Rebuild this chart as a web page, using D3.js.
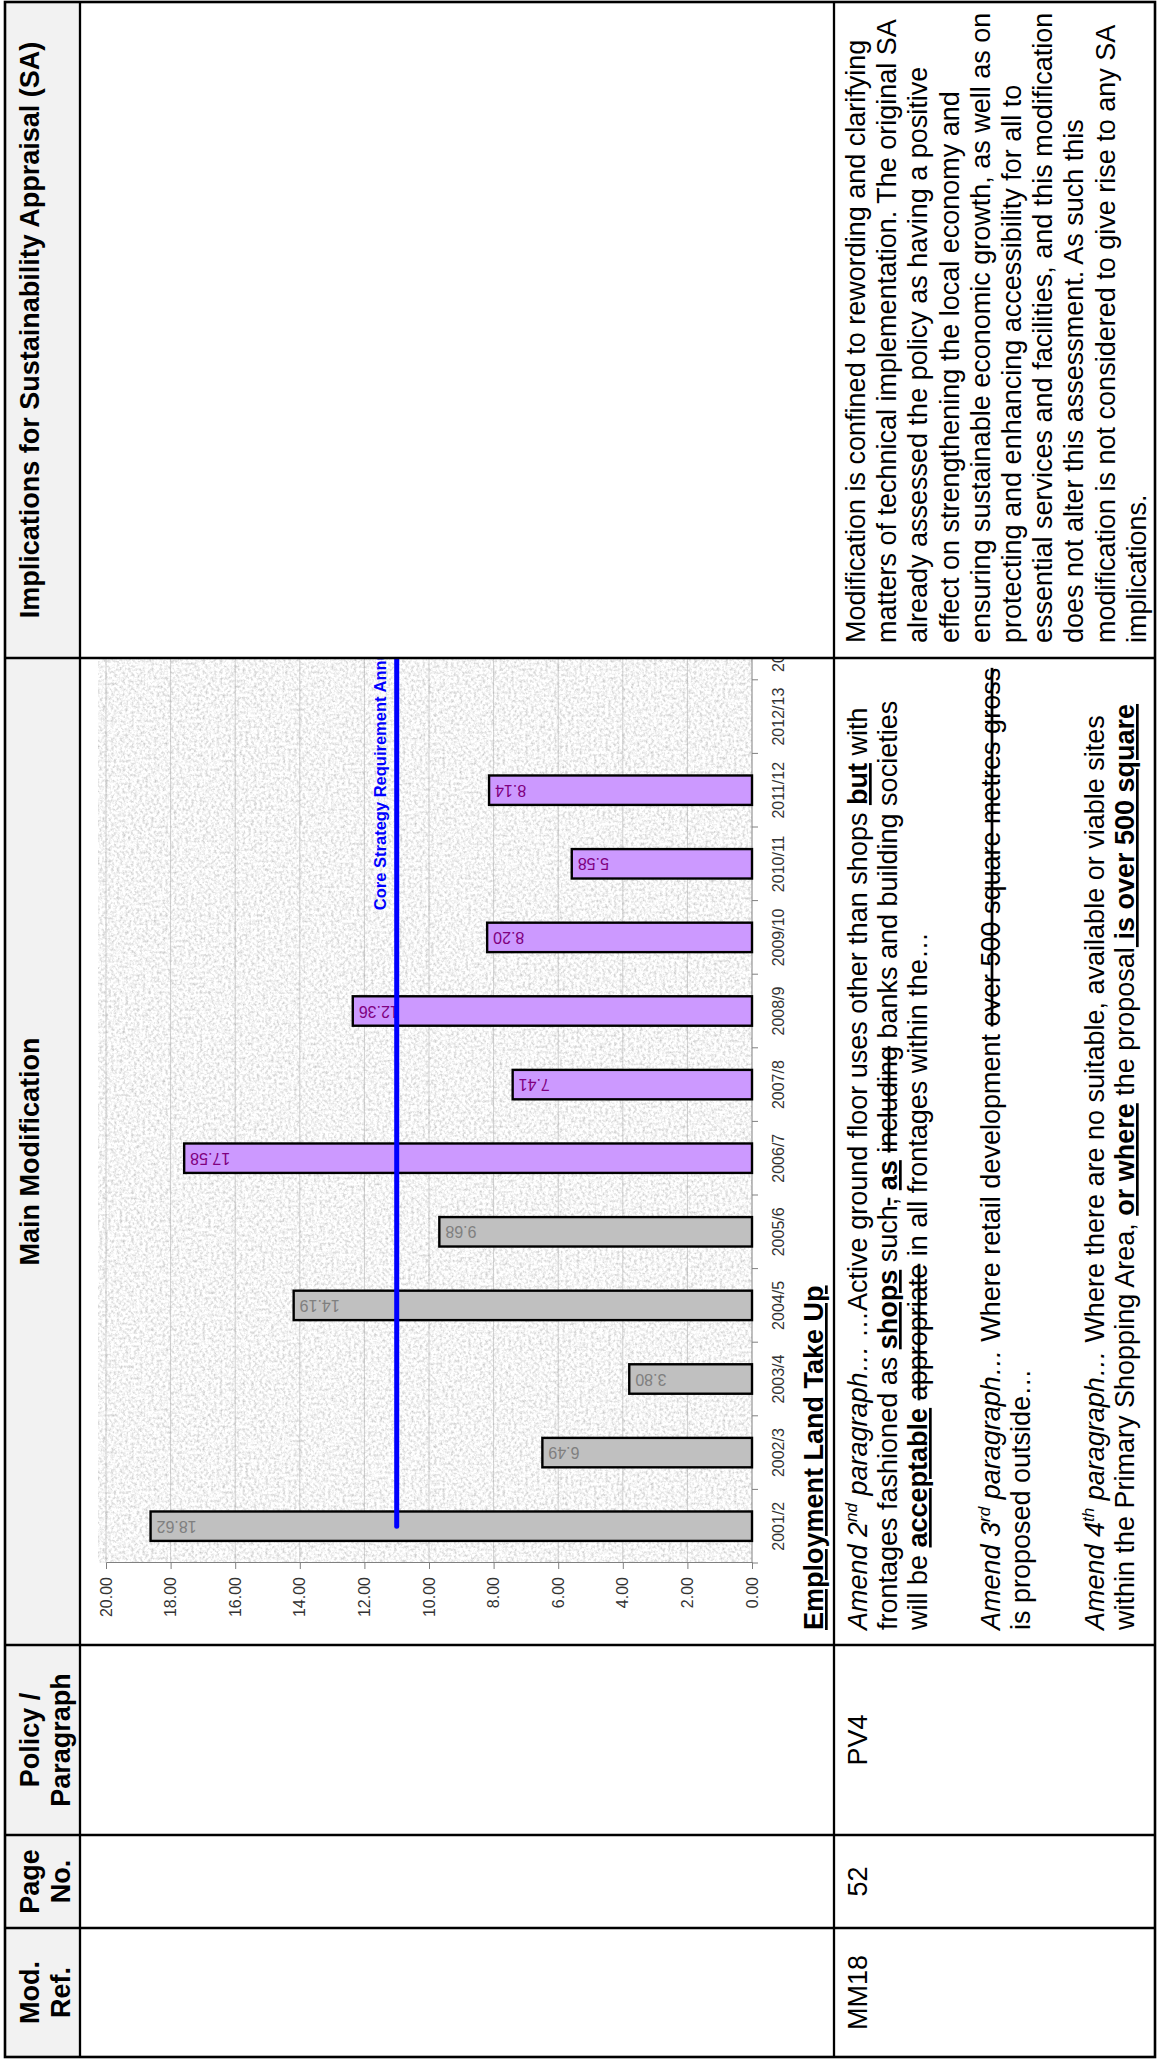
<!DOCTYPE html>
<html>
<head>
<meta charset="utf-8">
<script src="https://cdn.jsdelivr.net/npm/d3@7"></script>
<style>
  html, body { margin: 0; padding: 0; background: #fff; }
  svg { display: block; }
  text { font-family: "Liberation Sans", Arial, sans-serif; }
</style>
</head>
<body>
<svg id="page" width="1157" height="2062"></svg>
<script>
// ---- chart data: employment land take up (hectares per monitoring year) ----
const categories = ["2001/2", "2002/3", "2003/4", "2004/5", "2005/6", "2006/7",
  "2007/8", "2008/9", "2009/10", "2010/11", "2011/12", "2012/13", "2013/14"];
const takeUp = [18.62, 6.49, 3.80, 14.19, 9.68, 17.58, 7.41, 12.36, 8.20, 5.58, 8.14, null, null];
// years before the Core Strategy period vs. years inside it
const period = ["pre", "pre", "pre", "pre", "pre", "core", "core", "core", "core", "core", "core", "core", "core"];
const requirementAnnual = [11.0, 11.0, 11.0, 11.0, 11.0, 11.0, 11.0, 11.0, 11.0, 11.0, 11.0, 11.0, 11.0];
const requirementLabel = "Core Strategy Requirement Annual Average";
const valueTicks = [0, 2, 4, 6, 8, 10, 12, 14, 16, 18, 20];
const chartTitle = "Employment Land Take Up";

// ---- table text ----
const headers = [["Mod.", "Ref."], ["Page", "No."], ["Policy /", "Paragraph"], ["Main Modification"],
  ["Implications for Sustainability Appraisal (SA)"]];
const rowCells = ["MM18", "52", "PV4"];
const modLines = [
  [{t: "Amend 2", i: 1}, {t: "nd", i: 1, sup: 1}, {t: " paragraph…", i: 1}, {t: " …Active ground floor uses other than shops "},
    {t: "but", b: 1, u: 1}, {t: " with"}],
  [{t: "frontages fashioned as "}, {t: "shops", b: 1, u: 1}, {t: " such"}, {t: ",", s: 1}, {t: " "}, {t: "as", b: 1, u: 1},
    {t: " "}, {t: "including", s: 1}, {t: " banks and building societies"}],
  [{t: "will be "}, {t: "acceptable", b: 1, u: 1}, {t: " "}, {t: "appropriate", s: 1}, {t: " in all frontages within the…"}],
  null,
  [{t: "Amend 3", i: 1}, {t: "rd", i: 1, sup: 1}, {t: " paragraph…", i: 1}, {t: " Where retail development "},
    {t: "over 500 square metres gross", s: 1}],
  [{t: "is proposed outside…"}],
  null,
  [{t: "Amend 4", i: 1}, {t: "th", i: 1, sup: 1}, {t: " paragraph…", i: 1},
    {t: " Where there are no suitable, available or viable sites"}],
  [{t: "within the Primary Shopping Area, "}, {t: "or where", b: 1, u: 1}, {t: " the proposal"},
    {t: " is over 500 square", b: 1, u: 1}]
];
const saLines = [
  "Modification is confined to rewording and clarifying",
  "matters of technical implementation. The original SA",
  "already assessed the policy as having a positive",
  "effect on strengthening the local economy and",
  "ensuring sustainable economic growth, as well as on",
  "protecting and enhancing accessibility for all to",
  "essential services and facilities, and this modification",
  "does not alter this assessment. As such this",
  "modification is not considered to give rise to any SA",
  "implications."
];

// ---- page layout (drawn in landscape, then turned onto the portrait page) ----
const PAGE_H = 2062;
const colX = [5, 134, 227, 417, 1404, 2060];
const rowY = [5, 80, 834, 1155];
const bodyFont = 27;

const svg = d3.select("#page");
const defs = svg.append("defs");

// light granite fill of the plot area
const grain = defs.append("filter").attr("id", "grain")
  .attr("x", 0).attr("y", 0).attr("width", 1).attr("height", 1);
grain.append("feTurbulence").attr("type", "fractalNoise").attr("baseFrequency", 0.35)
  .attr("numOctaves", 3).attr("seed", 11).attr("result", "noise");
grain.append("feColorMatrix").attr("type", "matrix")
  .attr("values", "0.85 0 0 0 0.49  0.85 0 0 0 0.49  0.85 0 0 0 0.49  0 0 0 0 1");

defs.append("clipPath").attr("id", "chartClip").append("rect")
  .attr("x", colX[3]).attr("y", rowY[1]).attr("width", colX[4] - colX[3]).attr("height", rowY[2] - rowY[1]);

const page = svg.append("g").attr("transform", `translate(0,${PAGE_H}) rotate(-90)`);

// header band
page.append("rect").attr("x", colX[0]).attr("y", rowY[0])
  .attr("width", colX[5] - colX[0]).attr("height", rowY[1] - rowY[0]).attr("fill", "#f2f2f2");

// header labels
headers.forEach((lines, k) => {
  const cx = (colX[k] + colX[k + 1]) / 2;
  lines.forEach((s, j) => {
    page.append("text").attr("x", cx).attr("y", 39 + j * 31)
      .attr("text-anchor", "middle").attr("font-weight", "bold").attr("font-size", bodyFont)
      .attr("fill", "#000").text(s);
  });
});

// ---- chart ----
const chart = page.append("g").attr("clip-path", "url(#chartClip)");
const step = 73.6;
const x0 = 499;
const x = d3.scaleBand().domain(categories)
  .range([x0, x0 + step * categories.length]).paddingInner(0.6).paddingOuter(0.3);
const y = d3.scaleLinear().domain([0, 20]).range([752, 106]);
const plotRight = x0 + step * categories.length;

chart.append("rect").attr("x", x0).attr("y", y(20) - 8)
  .attr("width", plotRight - x0).attr("height", y(0) - y(20) + 8)
  .attr("fill", "#e9e9e9").attr("filter", "url(#grain)");

// gridlines
chart.append("g").selectAll("line").data(valueTicks.filter(v => v > 0)).join("line")
  .attr("x1", x0).attr("x2", plotRight).attr("y1", d => y(d)).attr("y2", d => y(d))
  .attr("stroke", "#a8a8a8").attr("stroke-width", 0.7).attr("stroke-opacity", 0.8);

// value axis
const yAxis = chart.append("g").attr("transform", `translate(${x0},0)`)
  .call(d3.axisLeft(y).tickValues(valueTicks).tickFormat(d3.format(".2f")).tickSize(6).tickPadding(8));
yAxis.select(".domain").attr("stroke", "#808080");
yAxis.selectAll(".tick line").attr("stroke", "#808080");
yAxis.selectAll(".tick text").attr("font-size", 16).attr("fill", "#333")
  .attr("font-family", "Liberation Sans, Arial, sans-serif");

// category axis: labels centred on bands, ticks between categories
chart.append("line").attr("x1", x0).attr("x2", plotRight).attr("y1", y(0)).attr("y2", y(0))
  .attr("stroke", "#808080");
chart.append("g").selectAll("line").data(d3.range(categories.length + 1)).join("line")
  .attr("x1", i => x0 + i * x.step()).attr("x2", i => x0 + i * x.step())
  .attr("y1", y(0)).attr("y2", y(0) + 6).attr("stroke", "#808080");
chart.append("g").selectAll("text").data(categories).join("text")
  .attr("x", d => x(d) + x.bandwidth() / 2).attr("y", y(0) + 32)
  .attr("text-anchor", "middle").attr("font-size", 16).attr("fill", "#333").text(d => d);

// bars
const barColor = {pre: "#c0c0c0", core: "#cc99ff"};
const labelColor = {pre: "#7f7f7f", core: "#800080"};
const bars = categories.map((c, i) => ({c, v: takeUp[i], p: period[i]})).filter(d => d.v != null);
chart.append("g").selectAll("rect").data(bars).join("rect")
  .attr("x", d => x(d.c)).attr("width", x.bandwidth())
  .attr("y", d => y(d.v)).attr("height", d => y(0) - y(d.v))
  .attr("fill", d => barColor[d.p]).attr("stroke", "#000").attr("stroke-width", 2.4);

// value labels, turned to read upwards inside the top of each bar
chart.append("g").selectAll("text").data(bars).join("text")
  .attr("transform", d => `translate(${x(d.c) + x.bandwidth() / 2 + 5.5},${y(d.v) + 6}) rotate(-90)`)
  .attr("text-anchor", "end").attr("font-size", 16).attr("fill", d => labelColor[d.p])
  .text(d => d.v.toFixed(2));

// requirement line
const line = d3.line().x((d, i) => x(categories[i]) + x.bandwidth() / 2).y(d => y(d));
chart.append("path").datum(requirementAnnual).attr("d", line)
  .attr("fill", "none").attr("stroke", "#0000ff").attr("stroke-width", 5).attr("stroke-linecap", "round");
chart.append("text").attr("x", x("2009/10") + 42).attr("y", y(requirementAnnual[8]) - 11)
  .attr("font-size", 16.5).attr("font-weight", "bold").attr("fill", "#0000ff").text(requirementLabel);

// chart caption under the plot
page.append("text").attr("x", colX[3] + 15).attr("y", 823)
  .attr("font-size", bodyFont).attr("font-weight", "bold").style("text-decoration", "underline")
  .text(chartTitle);

// ---- MM18 row ----
rowCells.forEach((s, k) => {
  page.append("text").attr("x", (colX[k] + colX[k + 1]) / 2).attr("y", 867)
    .attr("text-anchor", "middle").attr("font-size", bodyFont).text(s);
});

const modY = [867, 897, 927, null, 1000, 1030, null, 1104, 1134];
modLines.forEach((segs, li) => {
  if (!segs) return;
  const t = page.append("text").attr("x", colX[3] + 15).attr("y", modY[li]).attr("font-size", bodyFont);
  let raised = false;
  segs.forEach(s => {
    const sp = t.append("tspan").text(s.t);
    if (s.i) sp.attr("font-style", "italic");
    if (s.b) sp.attr("font-weight", "bold");
    const deco = [];
    if (s.u) deco.push("underline");
    if (s.s) deco.push("line-through");
    if (deco.length) sp.style("text-decoration", deco.join(" "));
    if (s.sup) { sp.attr("font-size", 17).attr("dy", -10); raised = true; }
    else if (raised) { sp.attr("dy", 10); raised = false; }
  });
});

saLines.forEach((s, i) => {
  page.append("text").attr("x", colX[4] + 15).attr("y", 865 + i * 31.2)
    .attr("font-size", bodyFont).text(s);
});

// ---- grid lines of the table ----
const rules = page.append("g").attr("stroke", "#000").attr("stroke-width", 2.3);
rowY.slice(1, -1).forEach(v => rules.append("line")
  .attr("x1", colX[0]).attr("x2", colX[5]).attr("y1", v).attr("y2", v));
colX.slice(1, -1).forEach(v => rules.append("line")
  .attr("x1", v).attr("x2", v).attr("y1", rowY[0]).attr("y2", rowY[3]));
rules.append("rect").attr("x", colX[0]).attr("y", rowY[0])
  .attr("width", colX[5] - colX[0]).attr("height", rowY[3] - rowY[0]).attr("fill", "none").attr("stroke-width", 2.6);
</script>
</body>
</html>
